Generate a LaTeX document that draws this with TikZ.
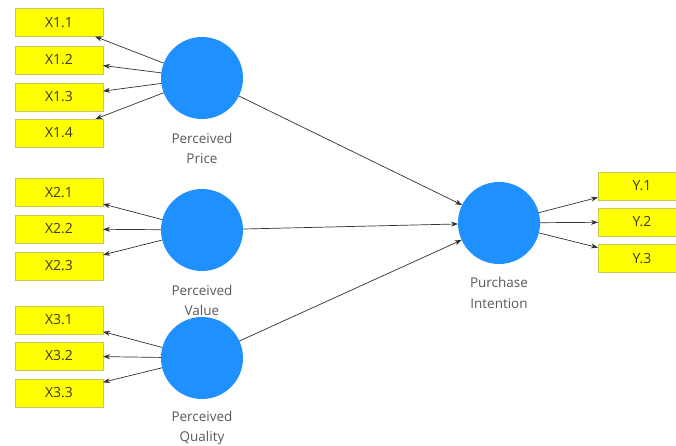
\documentclass[tikz,border=0pt]{standalone}
\usepackage{fontspec}
\setmainfont{Open Sans}
\usetikzlibrary{arrows.meta}
\definecolor{lvblue}{RGB}{30,144,255}
\definecolor{indyellow}{RGB}{255,255,0}
\definecolor{indborder}{RGB}{200,200,90}
\definecolor{indtext}{RGB}{60,60,30}
\definecolor{lbltext}{RGB}{90,90,90}
\definecolor{arrowcol}{RGB}{50,50,50}
\begin{document}
\begin{tikzpicture}[x=1pt,y=-1pt,
  ind/.style={draw=indborder, line width=0.8pt, fill=indyellow, minimum width=88pt, minimum height=28pt, inner sep=0pt, outer sep=0pt, text=indtext, font=\fontsize{14}{16}\selectfont},
  lv/.style={circle, fill=lvblue, draw=none, minimum size=82pt, inner sep=0pt, outer sep=0pt},
  lbl/.style={align=center, text=lbltext, font=\fontsize{13.5}{20.5}\selectfont, inner sep=0pt},
  conn/.style={draw=arrowcol, line width=0.7pt, -{Stealth[length=7pt,width=5pt]}}
]
\useasboundingbox (0,0) rectangle (676,446);
\clip (0,0) rectangle (676,446);
\fill[white] (0,0) rectangle (676,446);

% indicators
\node[ind] (x11) at (59,22.5) {X1.1};
\node[ind] (x12) at (59,60) {X1.2};
\node[ind] (x13) at (59,97) {X1.3};
\node[ind] (x14) at (59,133) {X1.4};
\node[ind] (x21) at (59,192.5) {X2.1};
\node[ind] (x22) at (59,229) {X2.2};
\node[ind] (x23) at (59,266) {X2.3};
\node[ind] (x31) at (59,320) {X3.1};
\node[ind] (x32) at (59,356) {X3.2};
\node[ind] (x33) at (59,393) {X3.3};
\node[ind] (y1) at (642,186) {Y.1};
\node[ind] (y2) at (642,222) {Y.2};
\node[ind] (y3) at (642,258.5) {Y.3};

% latent variables
\node[lv] (pp) at (202,78) {};
\node[lv] (pv) at (202,230) {};
\node[lv] (pq) at (202,358) {};
\node[lv] (pi) at (499,223) {};

% labels
\node[lbl] (lpp) at (202,148.5) {Perceived\\Price};
\node[lbl] (lpv) at (202,300.5) {Perceived\\Value};
\node[lbl] (lpq) at (202,428) {Perceived\\Quality};
\node[lbl] (lpi) at (499,293) {Purchase\\Intention};

% connectors
\foreach \t in {x11,x12,x13,x14} \draw[conn] (pp) -- (\t);
\foreach \t in {x21,x22,x23} \draw[conn] (pv) -- (\t);
\foreach \t in {x31,x32,x33} \draw[conn] (pq) -- (\t);
\foreach \s in {pp,pv,pq} \draw[conn] (\s) -- (pi);
\foreach \t in {y1,y2,y3} \draw[conn] (pi) -- (\t);
\end{tikzpicture}
\end{document}
